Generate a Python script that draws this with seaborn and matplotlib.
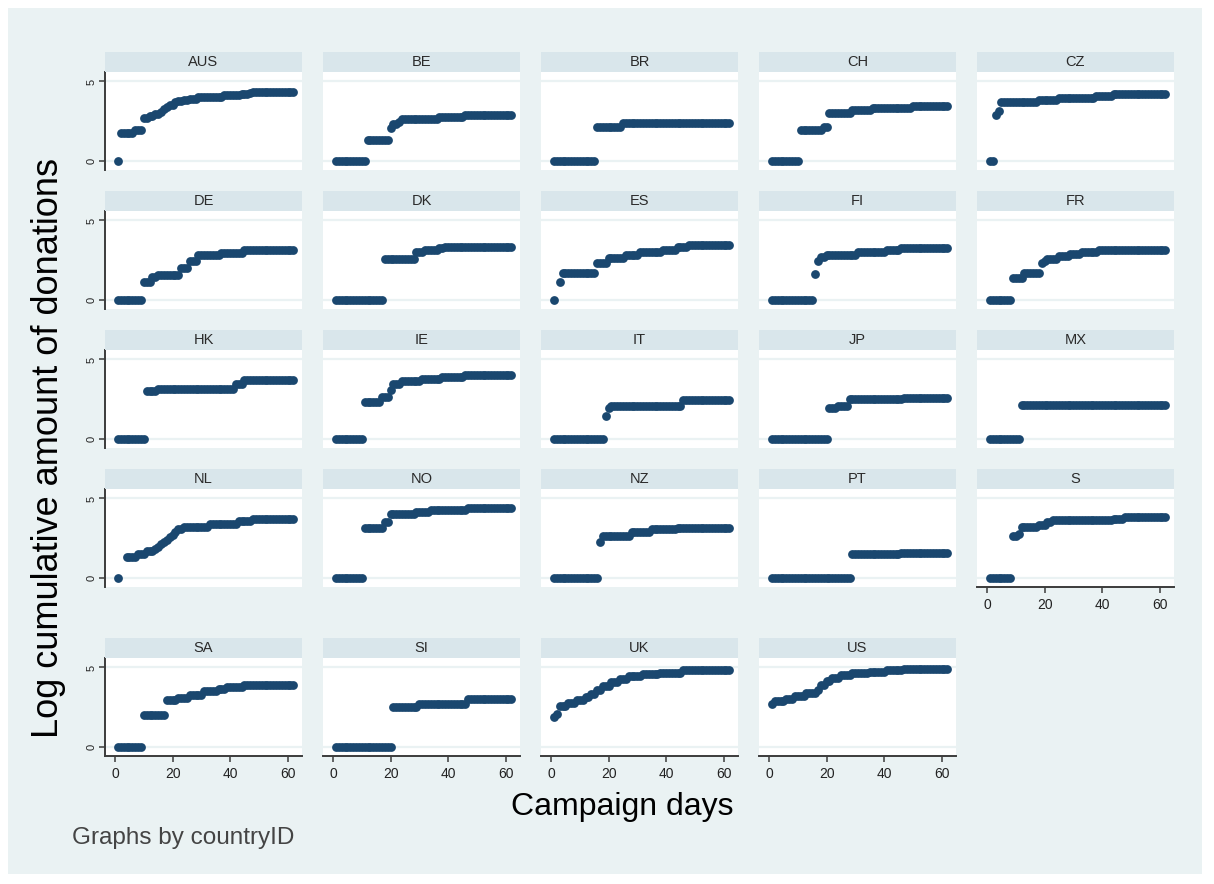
import numpy as np
import pandas as pd
import matplotlib
matplotlib.use("Agg")
import matplotlib.pyplot as plt
from matplotlib.patches import Rectangle
import seaborn as sns

# Country panels, in display order
countries = ["AUS", "BE", "BR", "CH", "CZ", "DE", "DK", "ES", "FI", "FR",
             "HK", "IE", "IT", "JP", "MX", "NL", "NO", "NZ", "PT", "S",
             "SA", "SI", "UK", "US"]

# Log cumulative amount of donations as step series:
# (first campaign day, value) -- the value holds until the next entry; None = no observation
AUS = [(1, 0.0), (2, 1.75), (7, 1.96), (10, 2.66), (12, 2.8), (14, 2.92), (16, 3.1), (17, 3.23),
       (18, 3.4), (19, 3.53), (21, 3.68), (22, 3.77), (24, 3.85), (26, 3.92), (29, 4.0), (31, 4.04),
       (38, 4.12), (44, 4.2), (47, 4.28), (48, 4.34)]
BE = [(1, 0.0), (12, 1.32), (20, 2.06), (21, 2.28), (23, 2.45), (24, 2.6), (37, 2.74), (46, 2.9)]
BR = [(1, 0.0), (16, 2.1), (25, 2.36)]
CH = [(1, 0.0), (11, 1.91), (19, 2.13), (21, 3.0), (29, 3.18), (36, 3.32), (50, 3.43)]
CZ = [(1, 0.0), (3, 2.85), (4, 3.15), (5, 3.7), (18, 3.83), (25, 3.96), (38, 4.09), (44, 4.19)]
DE = [(1, 0.0), (10, 1.09), (13, 1.4), (15, 1.56), (23, 1.99), (26, 2.44), (29, 2.82), (37, 2.95),
      (45, 3.14)]
DK = [(1, 0.0), (18, 2.56), (29, 2.98), (32, 3.14), (37, 3.25), (39, 3.35)]
ES = [(1, 0.0), (2, None), (3, 1.13), (4, 1.7), (16, 2.3), (20, 2.62), (26, 2.83), (31, 3.0),
      (39, 3.15), (44, 3.3), (48, 3.45)]
FI = [(1, 0.0), (16, 1.62), (17, 2.45), (18, 2.72), (20, 2.83), (31, 2.98), (41, 3.15), (46, 3.28)]
FR = [(1, 0.0), (9, 1.38), (13, 1.68), (19, 2.28), (20, 2.45), (21, 2.57), (25, 2.75), (29, 2.9),
      (33, 3.0), (39, 3.15)]
HK = [(1, 0.0), (11, 2.99), (15, 3.12), (42, 3.42), (45, 3.7)]
IE = [(1, 0.0), (11, 2.33), (17, 2.6), (20, 3.07), (21, 3.45), (24, 3.66), (31, 3.77), (38, 3.87),
      (46, 4.0)]
IT = [(1, 0.0), (19, 1.45), (20, 1.91), (21, 2.04), (46, 2.45)]
JP = [(1, 0.0), (21, 1.94), (24, 2.05), (28, 2.47), (47, 2.57)]
MX = [(1, 0.0), (12, 2.13)]
NL = [(1, 0.0), (2, None), (4, 1.31), (8, 1.48), (11, 1.67), (14, 1.8), (15, 1.94), (16, 2.1),
      (17, 2.26), (18, 2.4), (19, 2.57), (20, 2.72), (21, 2.89), (22, 3.05), (24, 3.2), (33, 3.38),
      (43, 3.55), (48, 3.68)]
NO = [(1, 0.0), (11, 3.16), (18, 3.52), (20, 4.0), (29, 4.14), (34, 4.24), (47, 4.4)]
NZ = [(1, 0.0), (17, 2.26), (18, 2.64), (28, 2.89), (35, 3.04), (44, 3.16)]
PT = [(1, 0.0), (29, 1.46), (46, 1.52)]
S = [(1, 0.0), (9, 2.64), (11, 2.78), (12, 3.2), (18, 3.31), (21, 3.52), (23, 3.67), (44, 3.73),
     (48, 3.84)]
SA = [(1, 0.0), (10, 1.97), (18, 2.92), (22, 3.09), (26, 3.28), (31, 3.5), (36, 3.64), (39, 3.77),
      (45, 3.88)]
SI = [(1, 0.0), (21, 2.5), (30, 2.71), (47, 3.03)]
UK = [(1, 1.86), (2, 2.08), (3, 2.56), (6, 2.75), (9, 2.97), (12, 3.14), (14, 3.35), (16, 3.56),
      (18, 3.81), (21, 4.09), (24, 4.26), (27, 4.45), (32, 4.58), (38, 4.68), (46, 4.83)]
US = [(1, 2.71), (2, 2.88), (6, 3.01), (9, 3.2), (13, 3.41), (17, 3.56), (18, 3.88), (20, 4.15),
      (22, 4.36), (25, 4.51), (29, 4.62), (35, 4.72), (41, 4.83), (47, 4.92)]

series = dict(AUS=AUS, BE=BE, BR=BR, CH=CH, CZ=CZ, DE=DE, DK=DK, ES=ES, FI=FI, FR=FR,
              HK=HK, IE=IE, IT=IT, JP=JP, MX=MX, NL=NL, NO=NO, NZ=NZ, PT=PT, S=S,
              SA=SA, SI=SI, UK=UK, US=US)
LAST_DAY = 62

x_ticks = [0, 20, 40, 60]
y_ticks = [0, 5]


def expand_steps(steps, last_day):
    rows = []
    for k, (start, val) in enumerate(steps):
        end = steps[k + 1][0] if k + 1 < len(steps) else last_day + 1
        if val is None:
            continue
        for d in range(start, end):
            rows.append((d, val))
    return rows


records = []
for c in countries:
    for d, v in expand_steps(series[c], LAST_DAY):
        records.append({"countryID": c, "day": d, "logdon": v})
df = pd.DataFrame(records)

# ---- style -------------------------------------------------------------
sns.set_theme(style="white")
plt.rcParams["font.family"] = ["Liberation Sans", "DejaVu Sans"]

BG = "#EAF2F3"
STRIP = "#D9E6EB"
NAVY = "#1A476F"
AXC = "#3C3C3C"

W, H = 1214, 884
ncol = 5
n = len(countries)

g = sns.relplot(data=df, x="day", y="logdon", col="countryID", col_order=countries,
                col_wrap=ncol, kind="scatter", color=NAVY, s=40, linewidth=0,
                height=2, aspect=1.4, facet_kws=dict(sharex=True, sharey=True))
fig = g.figure
fig.set_size_inches(W / 100, H / 100)
fig.set_dpi(100)
fig.patch.set_facecolor("white")
fig.add_artist(Rectangle((8 / W, 10 / H), (W - 20) / W, (H - 18) / H,
                         transform=fig.transFigure, facecolor=BG, edgecolor="none", zorder=-10))

g.set_titles("")
g.set_axis_labels("", "")

col_left = [105, 323, 541, 759, 977]
panel_w = 197
plot_h = 98
strip_h = 20
row_top = [72, 211, 350, 489, 658]   # top of each plot region (below its strip), px

for i, (ax, c) in enumerate(zip(g.axes.flat, countries)):
    r, k = divmod(i, ncol)
    left = col_left[k]
    top = row_top[r]
    ax.set_position([left / W, 1 - (top + plot_h) / H, panel_w / W, plot_h / H])
    ax.set_facecolor("white")
    ax.set_xlim(-3.5, 65)
    ax.set_ylim(-0.6, 5.6)
    ax.set_xticks(x_ticks)
    ax.set_yticks(y_ticks)
    ax.grid(axis="y", color=BG, linewidth=1.6)
    ax.grid(axis="x", visible=False)
    ax.set_axisbelow(True)

    is_left = (k == 0)
    is_bottom = (i + ncol >= n)
    for side in ["top", "right"]:
        ax.spines[side].set_visible(False)
    ax.spines["left"].set_visible(is_left)
    ax.spines["bottom"].set_visible(is_bottom)
    for side in ["left", "bottom"]:
        ax.spines[side].set_color(AXC)
        ax.spines[side].set_linewidth(1.4)

    ax.tick_params(axis="y", left=is_left, labelleft=is_left, length=4, width=1.1,
                   color=AXC, labelsize=8, labelcolor="#222222", labelrotation=90, pad=2)
    ax.tick_params(axis="x", bottom=is_bottom, labelbottom=is_bottom, length=4, width=1.1,
                   color=AXC, labelsize=10, labelcolor="#222222", pad=4)
    if is_left:
        for lab in ax.get_yticklabels():
            lab.set_va("center")

    # strip header
    ax.add_patch(Rectangle((0, 1.0), 1, strip_h / plot_h, transform=ax.transAxes,
                           facecolor=STRIP, edgecolor="none", clip_on=False, zorder=3))
    ax.text(0.5, 1.0 + strip_h / plot_h / 2, c, transform=ax.transAxes, ha="center",
            va="center", fontsize=10.5, color="#2A2A2A", zorder=4)

fig.text(49 / W, 1 - 448 / H, "Log cumulative amount of donations", rotation=90,
         ha="center", va="center", fontsize=26, color="black")
fig.text(622 / W, 1 - 807 / H, "Campaign days", ha="center", va="center",
         fontsize=23, color="black")
fig.text(72 / W, 1 - 838 / H, "Graphs by countryID", ha="left", va="center",
         fontsize=17.5, color="#444444")

fig.savefig("out.png", dpi=100, facecolor=fig.get_facecolor())
